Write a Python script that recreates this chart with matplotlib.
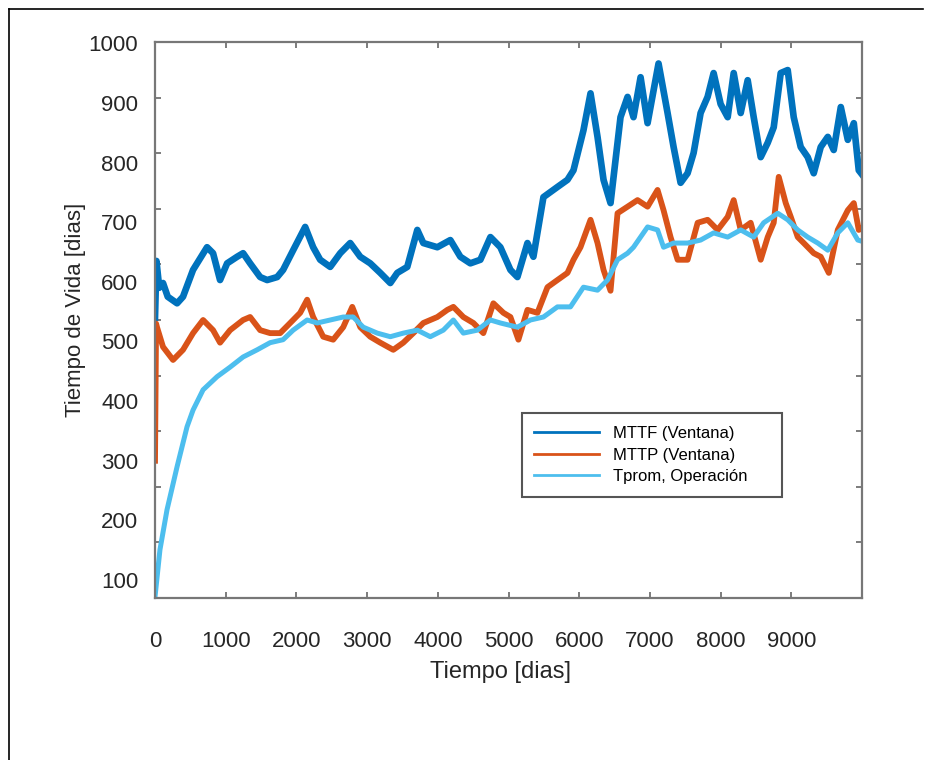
import numpy as np
import matplotlib
matplotlib.use("Agg")
import matplotlib.pyplot as plt
from matplotlib.lines import Line2D

# series (tiempo en dias, valor en dias)
t_mttf = [0, 20, 60, 113, 180, 312, 396, 538, 736, 821, 920, 1020, 1161, 1246, 1345,
          1487, 1586, 1728, 1812, 1954, 2124, 2237, 2336, 2478, 2620, 2761, 2903, 3044,
          3186, 3328, 3427, 3568, 3710, 3795, 3993, 4177, 4319, 4460, 4602, 4744, 4885,
          5027, 5126, 5268, 5352, 5494, 5692, 5834, 5919, 6060, 6160, 6259, 6344, 6443,
          6584, 6684, 6768, 6868, 6967, 7052, 7122, 7250, 7335, 7434, 7533, 7618, 7717,
          7816, 7901, 8000, 8100, 8185, 8284, 8383, 8468, 8567, 8666, 8751, 8850, 8949,
          9034, 9133, 9232, 9317, 9416, 9516, 9600, 9700, 9799, 9884, 9954, 10000]
mttf = [540, 635, 590, 598, 575, 564, 575, 620, 658, 648, 603, 631, 642, 648, 631,
        608, 603, 608, 620, 653, 692, 658, 637, 625, 648, 665, 642, 631,
        615, 598, 615, 625, 687, 665, 658, 670, 642, 631, 637, 675, 658,
        620, 608, 665, 642, 742, 759, 771, 787, 854, 916, 843, 771, 732,
        876, 910, 876, 943, 866, 921, 966, 883, 826, 766, 782, 816, 883,
        910, 950, 898, 876, 950, 883, 938, 876, 809, 833, 859, 950, 955,
        876, 826, 809, 782, 826, 843, 821, 893, 838, 866, 787, 780]

t_mttp = [0, 15, 28, 113, 255, 396, 538, 680, 821, 920, 1062, 1246, 1345, 1487, 1628,
          1770, 1912, 2053, 2152, 2237, 2379, 2520, 2662, 2790, 2903, 3044, 3186, 3370,
          3512, 3653, 3795, 3993, 4135, 4220, 4361, 4503, 4644, 4786, 4928, 5027, 5140,
          5268, 5409, 5551, 5692, 5834, 5919, 6018, 6160, 6259, 6344, 6443, 6542, 6684,
          6825, 6967, 7108, 7193, 7292, 7392, 7533, 7675, 7816, 7958, 8100, 8185, 8284,
          8425, 8567, 8666, 8751, 8822, 8921, 8992, 9091, 9176, 9317, 9416, 9530, 9657,
          9799, 9884, 9954, 10000]
mttp = [300, 530, 524, 491, 469, 486, 514, 536, 519, 498, 519, 536, 541, 519, 514,
        514, 531, 548, 570, 541, 508, 503, 524, 558, 524, 508, 498, 486,
        498, 514, 531, 541, 553, 558, 541, 531, 514, 564, 548, 541, 503,
        553, 548, 591, 603, 615, 637, 658, 704, 665, 620, 585, 715, 726,
        737, 726, 754, 720, 675, 637, 637, 699, 704, 687, 709, 737, 687,
        699, 637, 675, 699, 776, 732, 709, 675, 665, 648, 642, 615, 687,
        720, 732, 687, 690]

t_tprom = [0, 70, 170, 312, 453, 538, 680, 878, 1062, 1246, 1444, 1628, 1812, 1954,
           2152, 2294, 2478, 2662, 2804, 2945, 3144, 3328, 3512, 3710, 3894, 4078, 4220,
           4361, 4560, 4744, 4885, 5126, 5310, 5494, 5692, 5876, 6060, 6259, 6400, 6542,
           6684, 6768, 6967, 7108, 7193, 7335, 7533, 7717, 7901, 8100, 8284, 8468, 8609,
           8808, 8949, 9091, 9232, 9374, 9516, 9657, 9799, 9940, 10000]
tprom = [72, 151, 218, 290, 357, 385, 419, 441, 457, 474, 486, 498, 503, 519,
         536, 531, 536, 541, 541, 524, 514, 508, 514, 519, 508, 519, 536,
         514, 519, 536, 531, 524, 536, 541, 558, 558, 591, 586, 603, 637,
         648, 658, 692, 687, 658, 665, 665, 670, 682, 675, 687, 675, 699,
         715, 704, 687, 675, 665, 653, 682, 699, 670, 668]

series_names = ["MTTF (Ventana)", "MTTP (Ventana)", "Tprom, Operación"]
x_ticks = [0, 1000, 2000, 3000, 4000, 5000, 6000, 7000, 8000, 9000]
y_labels = [100, 200, 300, 400, 500, 600, 700, 800, 900, 1000]

plt.rcParams['font.family'] = ['Liberation Sans', 'DejaVu Sans']
txt = '#262626'

fig = plt.figure(figsize=(9.26, 7.6), dpi=100)
ax = fig.add_axes([0.1674, 0.2132, 0.7635, 0.7315])

ax.plot(t_mttf, mttf, color='#0072BD', lw=4.8, label=series_names[0])
ax.plot(t_mttp, mttp, color='#D95319', lw=4.2, label=series_names[1])
ax.plot(t_tprom, tprom, color='#4DBEEE', lw=3.6, label=series_names[2])

ax.set_xlim(0, 10000)
ax.set_ylim(70, 1002)

# x ticks: inward, on bottom and top
ax.set_xticks(x_ticks)
ax.tick_params(axis='x', which='major', direction='in', length=4, width=1.2,
               color='#666666', top=True, labelsize=16, labelcolor=txt, pad=24)

# y labels sit on their own grid, tick marks on another one
ax.set_yticks(y_labels)
ax.tick_params(axis='y', which='major', length=0, labelsize=16, labelcolor=txt, pad=12)
ax.set_yticks(np.linspace(70, 1002, 11)[1:-1], minor=True)
ax.tick_params(axis='y', which='minor', direction='in', length=4, width=1.2,
               color='#666666', right=True)

for s in ax.spines.values():
    s.set_color('#777777')
    s.set_linewidth(1.6)

fig.text(0.54, 0.116, "Tiempo [dias]", fontsize=17, color=txt, ha='center', va='center')
fig.text(0.081, 0.592, "Tiempo de Vida [dias]", fontsize=16, color=txt,
         ha='center', va='center', rotation=90)

leg = ax.legend(loc='lower left', bbox_to_anchor=(0.519, 0.182, 0.368, 0.147),
                mode='expand', fancybox=False, framealpha=1, edgecolor='#555555',
                prop={'size': 12}, handlelength=3.9, borderpad=0.75,
                handletextpad=0.8, labelspacing=0.4, borderaxespad=0)
leg.get_frame().set_linewidth(1.5)
for h in leg.get_lines():
    h.set_linewidth(2)

# outer frame of the picture
fig.add_artist(Line2D([9 / 926, 9 / 926], [0, 1 - 9 / 760], color='black', lw=1.2))
fig.add_artist(Line2D([9 / 926, 923 / 926], [1 - 9 / 760, 1 - 9 / 760], color='black', lw=1.2))

fig.savefig("out.png", dpi=100)
